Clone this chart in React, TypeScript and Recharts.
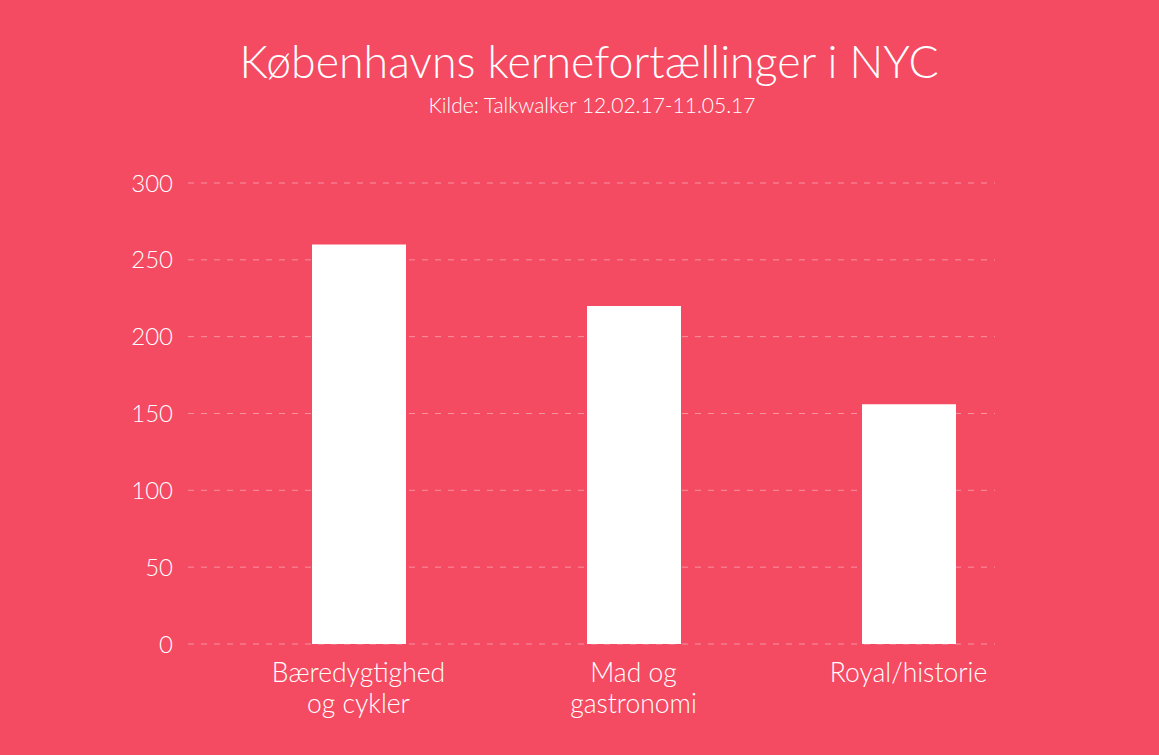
import React from "react";
import { BarChart, Bar, XAxis, YAxis, CartesianGrid } from "recharts";

const categories = ["Bæredygtighed\nog cykler", "Mad og\ngastronomi", "Royal/historie"];
const values = [260, 220, 156];
const yTicks = [0, 50, 100, 150, 200, 250, 300];
const titleText = "Københavns kernefortællinger i NYC";
const subtitleText = "Kilde: Talkwalker 12.02.17-11.05.17";

const data = categories.map((c, i) => ({ name: c, value: values[i] }));

const BG = "#F44A62";
const FONT = "Lato, 'Open Sans', sans-serif";

const XTick = (props: any) => {
  const { x, y, payload } = props;
  const lines = String(payload.value).split("\n");
  return (
    <text x={x} y={y} textAnchor="middle" fill="#fff" fontSize={26.5} fontFamily={FONT} fontWeight={300}>
      {lines.map((l: string, i: number) => (
        <tspan key={i} x={x} dy={i === 0 ? 38 : 31}>
          {l}
        </tspan>
      ))}
    </text>
  );
};

export default function App() {
  return (
    <div
      style={{
        position: "absolute",
        left: 0,
        top: 0,
        width: 1159,
        height: 755,
        background: BG,
        fontFamily: FONT,
        overflow: "hidden",
      }}
    >
      <div
        style={{
          position: "absolute",
          left: 0,
          width: 1178,
          top: 33,
          textAlign: "center",
          color: "#fff",
          fontSize: 44.7,
          fontWeight: 300,
          lineHeight: "56px",
        }}
      >
        {titleText}
      </div>
      <div
        style={{
          position: "absolute",
          left: 0,
          width: 1184,
          top: 92,
          textAlign: "center",
          color: "#fff",
          fontSize: 21,
          fontWeight: 300,
          lineHeight: "26px",
        }}
      >
        {subtitleText}
      </div>
      <div style={{ position: "absolute", left: 0, top: 0 }}>
        <BarChart
          width={1159}
          height={755}
          data={data}
          margin={{ top: 183, left: 128, right: 164, bottom: 0 }}
          barCategoryGap={0}
        >
          <CartesianGrid
            vertical={false}
            stroke="rgba(255,255,255,0.4)"
            strokeDasharray="6 7"
          />
          <XAxis
            dataKey="name"
            axisLine={false}
            tickLine={false}
            tickSize={0}
            tickMargin={0}
            interval={0}
            padding={{ left: 33, right: -51 }}
            tick={<XTick />}
            height={111}
          />
          <YAxis
            width={60}
            domain={[0, 300]}
            ticks={yTicks}
            axisLine={false}
            tickLine={false}
            tickSize={0}
            tickMargin={15}
            tick={{ fill: "#fff", fontSize: 24, fontFamily: FONT, fontWeight: 300 }}
          />
          <Bar dataKey="value" fill="#fff" barSize={94} isAnimationActive={false} />
        </BarChart>
      </div>
    </div>
  );
}
